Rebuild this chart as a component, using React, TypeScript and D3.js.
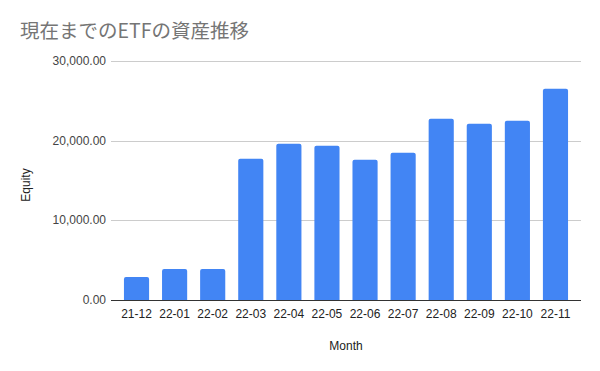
import React, { useEffect, useRef } from "react";
import * as d3 from "d3";

// 月ごとの資産額
const months = ["21-12", "22-01", "22-02", "22-03", "22-04", "22-05", "22-06", "22-07", "22-08", "22-09", "22-10", "22-11"];
const equity = [2890, 3900, 3900, 17720, 19600, 19350, 17600, 18470, 22750, 22120, 22500, 26520];
const yTicks = [0, 10000, 20000, 30000];

const W = 600;
const H = 371;
const margin = { top: 61, right: 19, bottom: 71, left: 111 };

const App = () => {
  const svgRef = useRef<SVGSVGElement>(null);

  useEffect(() => {
    const svg = d3.select(svgRef.current);
    svg.selectAll("*").remove();

    const x = d3
      .scaleBand()
      .domain(months)
      .range([margin.left, W - margin.right])
      .paddingInner(0.34)
      .paddingOuter(0.34);

    const y = d3
      .scaleLinear()
      .domain([0, 30000])
      .range([H - margin.bottom, margin.top]);

    const font = "Arial, 'Liberation Sans', sans-serif";

    // title
    svg.append("text")
      .attr("x", 20)
      .attr("y", 38)
      .attr("font-family", "'Noto Sans CJK JP', sans-serif")
      .attr("font-size", 19.5)
      .attr("fill", "#757575")
      .text("現在までのETFの資産推移");

    // grid + y labels
    const grid = svg.append("g");
    grid.selectAll("line")
      .data(yTicks.filter(d => d > 0))
      .enter()
      .append("line")
      .attr("x1", margin.left)
      .attr("x2", W - margin.right)
      .attr("y1", d => Math.round(y(d)) + 0.5)
      .attr("y2", d => Math.round(y(d)) + 0.5)
      .attr("stroke", "#cccccc");

    svg.append("g")
      .selectAll("text")
      .data(yTicks)
      .enter()
      .append("text")
      .attr("x", 106)
      .attr("y", d => y(d) + 4)
      .attr("text-anchor", "end")
      .attr("font-family", font)
      .attr("font-size", 12)
      .attr("fill", "#444")
      .text(d => d3.format(",.2f")(d));

    // bars
    svg.append("g")
      .selectAll("path")
      .data(equity)
      .enter()
      .append("path")
      .attr("d", (d, i) => {
        const x0 = x(months[i])!;
        const w = x.bandwidth();
        const top = y(d);
        const base = y(0);
        const r = 2;
        return `M${x0},${base}V${top + r}Q${x0},${top} ${x0 + r},${top}H${x0 + w - r}Q${x0 + w},${top} ${x0 + w},${top + r}V${base}Z`;
      })
      .attr("fill", "#4285f4");

    // baseline
    svg.append("line")
      .attr("x1", margin.left)
      .attr("x2", W - margin.right)
      .attr("y1", y(0) + 0.5)
      .attr("y2", y(0) + 0.5)
      .attr("stroke", "#333")
      .attr("stroke-width", 1);

    // x labels
    svg.append("g")
      .selectAll("text")
      .data(months)
      .enter()
      .append("text")
      .attr("x", d => x(d)! + x.bandwidth() / 2)
      .attr("y", 318)
      .attr("text-anchor", "middle")
      .attr("font-family", font)
      .attr("font-size", 12)
      .attr("fill", "#222")
      .text(d => d);

    // axis titles
    svg.append("text")
      .attr("x", (margin.left + W - margin.right) / 2)
      .attr("y", 350)
      .attr("text-anchor", "middle")
      .attr("font-family", font)
      .attr("font-size", 12)
      .attr("fill", "#222")
      .text("Month");

    svg.append("text")
      .attr("transform", `translate(30, 185) rotate(-90)`)
      .attr("text-anchor", "middle")
      .attr("font-family", font)
      .attr("font-size", 12)
      .attr("fill", "#222")
      .text("Equity");
  }, []);

  return (
    <div style={{ position: "absolute", left: 0, top: 0 }}>
      <svg ref={svgRef} width={W} height={H} style={{ display: "block", background: "#fff" }} />
    </div>
  );
};

export default App;
